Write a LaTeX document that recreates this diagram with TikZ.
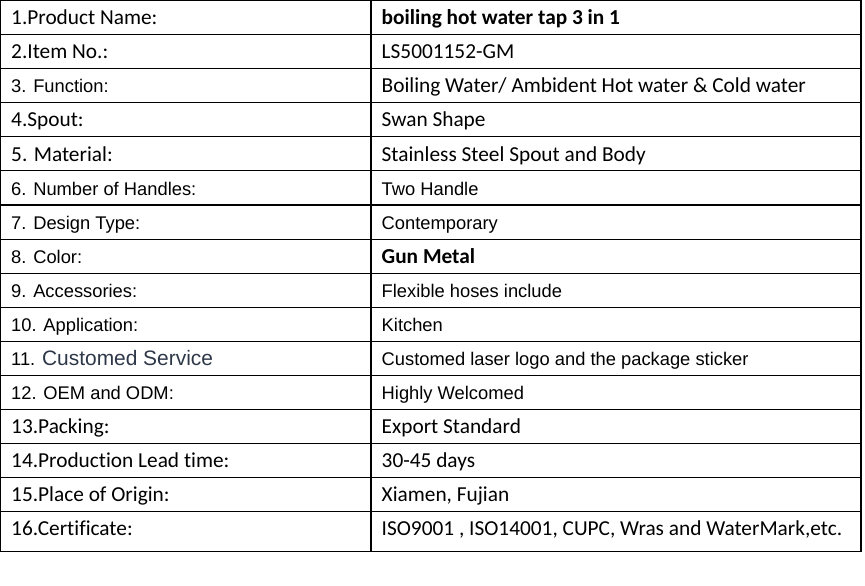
\documentclass[tikz,border=0pt]{standalone}
\usepackage{fontspec}
\setmainfont{Carlito}[Ligatures=NoCommon]
\newfontfamily\arialf{Liberation Sans}
\definecolor{slate}{RGB}{45,55,72}
\begin{document}
\begin{tikzpicture}[x=1bp,y=-1bp,
  cell/.style={anchor=base west,inner sep=0pt,font=\fontsize{21.4}{25}\selectfont},
  bcell/.style={anchor=base west,inner sep=0pt,font=\bfseries\fontsize{21.4}{25}\selectfont},
  acell/.style={anchor=base west,inner sep=0pt,font=\arialf\fontsize{18.4}{22}\selectfont},
  rule/.style={line width=1.1bp,black},
  thickrule/.style={line width=2bp,black}]
\useasboundingbox (0,0) rectangle (865,586);
% grid
\draw[rule] (0.5,0.5) rectangle (861,551.7);
\draw[rule] (371,0.5) -- (371,551.7);
\foreach \yy in {34.3,68.3,102.3,136.7,170.7,239.3,273.3,307.3,341.3,375.3,409.3,443.3,477.3,511.3}
  \draw[rule] (0.5,\yy) -- (861,\yy);
\draw[thickrule] (0.5,205.3) -- (861,205.3);
% left column
\node[cell]  (l1)  at (11,25.0)  {1.Product Name:};
\node[cell]  (l2)  at (11,58.8)  {2.Item No.:};
\node[acell] (l3)  at (11,92.8)  {3. Function:};
\node[cell]  (l4)  at (11,126.8) {4.Spout:};
\node[cell]  (l5)  at (11,161.2) {5. Material:};
\node[acell] (l6)  at (11,195.2) {6. Number of Handles:};
\node[acell] (l7)  at (11,229.8) {7. Design Type:};
\node[acell] (l8)  at (11,263.8) {8. Color:};
\node[acell] (l9)  at (11,297.8) {9. Accessories:};
\node[acell] (l10) at (11,331.8) {10. Application:};
\node[acell] (l11) at (11,365.8) {11. {\fontsize{21}{25}\selectfont\color{slate}Customed Service}};
\node[acell] (l12) at (11,399.8) {12. OEM and ODM:};
\node[cell]  (l13) at (11,433.8) {13.Packing:};
\node[cell]  (l14) at (11,467.3) {14.Production Lead time:};
\node[cell]  (l15) at (11,501.5) {15.Place of Origin:};
\node[cell]  (l16) at (11,535.3) {16.Certificate:};
% right column
\node[bcell] (r1)  at (381.5,25.0)  {boiling hot water tap 3 in 1};
\node[cell]  (r2)  at (381.5,58.8)  {LS5001152-GM};
\node[cell]  (r3)  at (381.5,92.8)  {Boiling Water/ Ambident Hot water \& Cold water};
\node[cell]  (r4)  at (381.5,126.8) {Swan Shape};
\node[cell]  (r5)  at (381.5,161.2) {Stainless Steel Spout and Body};
\node[acell] (r6)  at (381.5,195.2) {Two Handle};
\node[acell] (r7)  at (381.5,229.8) {Contemporary};
\node[bcell] (r8)  at (381.5,263.8) {Gun Metal};
\node[acell] (r9)  at (381.5,297.8) {Flexible hoses include};
\node[acell] (r10) at (381.5,331.8) {Kitchen};
\node[acell] (r11) at (381.5,365.8) {Customed laser logo and the package sticker};
\node[acell] (r12) at (381.5,399.8) {Highly Welcomed};
\node[cell]  (r13) at (381.5,433.8) {Export Standard};
\node[cell]  (r14) at (381.5,467.3) {30-45 days};
\node[cell]  (r15) at (381.5,501.5) {Xiamen, Fujian};
\node[cell]  (r16) at (381.5,535.3) {ISO9001 , ISO14001, CUPC, Wras and WaterMark,etc.};
\end{tikzpicture}
\end{document}
